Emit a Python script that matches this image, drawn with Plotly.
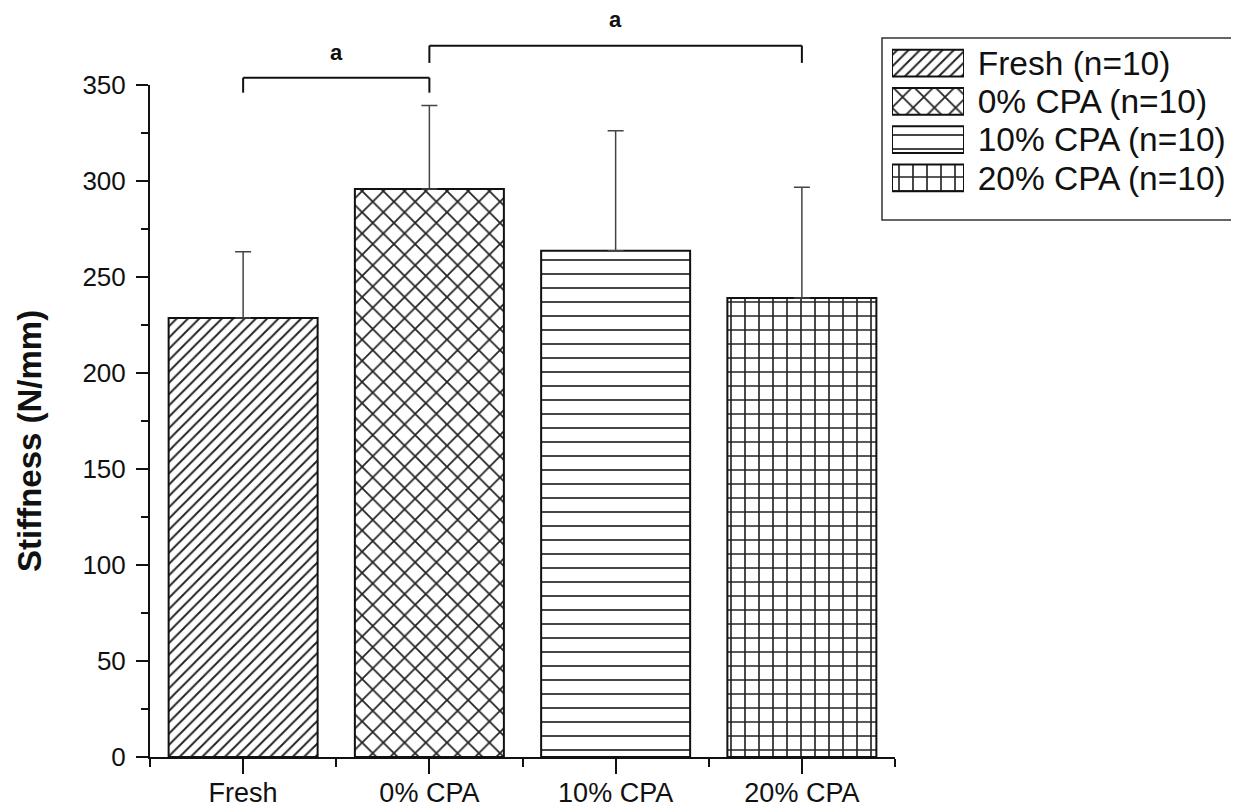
import plotly.graph_objects as go

# ---------------- data ----------------
categories = ["Fresh", "0% CPA", "10% CPA", "20% CPA"]
legend_labels = ["Fresh (n=10)", "0% CPA (n=10)", "10% CPA (n=10)", "20% CPA (n=10)"]
stiffness_mean = [228.6, 295.8, 263.7, 239.0]
stiffness_sd = [34.6, 43.5, 62.5, 57.7]
patterns = ["/", "x", "-", "+"]
pattern_sizes = [8, 15, 14, 14]
pattern_solidity = [0.24, 0.22, 0.12, 0.22]

# significance brackets: (left idx, right idx, bar level, leg end level, label level)
brackets = [
    (0, 1, 353.8, 346.0, 367.0, "a"),
    (1, 3, 370.5, 361.5, 384.0, "a"),
]
y_max = 350

# ---------------- layout helpers (page pixel -> paper) ----------------
OFF = 8                      # page body margin around the plot div
FW, FH = 1239 - OFF, 807 - OFF
ML, MR, MT, MB = 142, 5, 5, 42
PW, PH = FW - ML - MR, FH - MT - MB


def px_x(p):
    return (p - OFF - ML) / PW


def px_y(p):
    return (FH - MB - (p - OFF)) / PH


x_dom = [px_x(150), px_x(895)]
y_dom = [px_y(757), px_y(85)]

FONT = "Liberation Sans, Arial, sans-serif"
INK = "#111111"

xs = list(range(len(categories)))

fig = go.Figure()

bar_marker = dict(
    color="white",
    line=dict(color=INK, width=2),
    pattern=dict(shape=patterns, size=pattern_sizes, solidity=pattern_solidity,
                 fgcolor="#222222", fgopacity=1, bgcolor="white"),
)

fig.add_trace(go.Bar(
    x=xs,
    y=stiffness_mean,
    width=0.8,
    marker=bar_marker,
    error_y=dict(type="data", symmetric=False, array=stiffness_sd,
                 arrayminus=[0] * len(stiffness_sd),
                 color="#444", thickness=1.5, width=8),
    showlegend=False,
    xaxis="x", yaxis="y",
))

# legend drawn as an inset of patterned swatches
fig.add_trace(go.Bar(
    y=xs,
    x=[1] * len(xs),
    orientation="h",
    width=0.7,
    marker=bar_marker,
    cliponaxis=False,
    showlegend=False,
    hoverinfo="skip",
    xaxis="x2", yaxis="y2",
))

shapes = []
annotations = []


def ypaper(v):
    return y_dom[0] + v / y_max * (y_dom[1] - y_dom[0])


for (i0, i1, lvl, leg, lab, txt) in brackets:
    shapes.append(dict(type="line", xref="x", yref="paper", x0=i0, x1=i0,
                       y0=ypaper(leg), y1=ypaper(lvl), line=dict(color=INK, width=2)))
    shapes.append(dict(type="line", xref="x", yref="paper", x0=i0, x1=i1,
                       y0=ypaper(lvl), y1=ypaper(lvl), line=dict(color=INK, width=2)))
    shapes.append(dict(type="line", xref="x", yref="paper", x0=i1, x1=i1,
                       y0=ypaper(leg), y1=ypaper(lvl), line=dict(color=INK, width=2)))
    annotations.append(dict(x=(i0 + i1) / 2, y=ypaper(lab), xref="x", yref="paper",
                            xanchor="center", yanchor="middle",
                            text=f"<b>{txt}</b>", showarrow=False,
                            font=dict(family=FONT, size=22, color=INK)))

# legend box
shapes.append(dict(type="rect", xref="paper", yref="paper",
                   x0=px_x(882), x1=px_x(1232), y0=px_y(220), y1=px_y(38),
                   line=dict(color="#333", width=1.5), fillcolor="rgba(0,0,0,0)"))

# y-axis title
annotations.append(dict(x=px_x(29), y=px_y(441), xref="paper", yref="paper",
                        xanchor="center", yanchor="middle",
                        text="<b>Stiffness (N/mm)</b>", textangle=-90, showarrow=False,
                        font=dict(family=FONT, size=33, color=INK)))

fig.update_layout(
    width=FW, height=FH,
    margin=dict(l=ML, r=MR, t=MT, b=MB, autoexpand=False),
    paper_bgcolor="white", plot_bgcolor="white",
    font=dict(family=FONT, color=INK),
    xaxis=dict(
        domain=x_dom, range=[-0.5, 3.5], automargin=False,
        tickmode="array", tickvals=xs, ticktext=categories,
        ticks="outside", ticklen=15, tickwidth=2, tickcolor=INK,
        minor=dict(tickvals=[-0.5, 0.5, 1.5, 2.5, 3.5], ticks="outside",
                   ticklen=8, tickwidth=2, tickcolor=INK),
        showline=True, linecolor=INK, linewidth=2,
        showgrid=False, zeroline=False,
        tickfont=dict(family=FONT, size=27, color=INK),
        ticklabelstandoff=-4,
        anchor="y",
    ),
    yaxis=dict(
        domain=y_dom, range=[0, y_max], automargin=False,
        tickmode="linear", tick0=0, dtick=50,
        ticks="outside", ticklen=12, tickwidth=2, tickcolor=INK,
        minor=dict(dtick=25, ticks="outside", ticklen=7, tickwidth=2, tickcolor=INK),
        showline=True, linecolor=INK, linewidth=2,
        showgrid=False, zeroline=False,
        tickfont=dict(family=FONT, size=26, color=INK),
        ticklabelstandoff=5,
        anchor="x",
    ),
    xaxis2=dict(
        domain=[px_x(892), px_x(964)], range=[0, 1], visible=False,
        anchor="y2", fixedrange=True, automargin=False,
    ),
    yaxis2=dict(
        domain=[px_y(197), px_y(44)], range=[3.5, -0.5], anchor="x2", side="right",
        tickmode="array", tickvals=xs, ticktext=legend_labels, automargin=False,
        ticks="outside", ticklen=6, tickcolor="rgba(0,0,0,0)",
        showline=False, showgrid=False, zeroline=False, fixedrange=True,
        tickfont=dict(family=FONT, size=33.5, color=INK),
    ),
    shapes=shapes,
    annotations=annotations,
    bargap=0.2,
)

fig.write_html("out.html")
